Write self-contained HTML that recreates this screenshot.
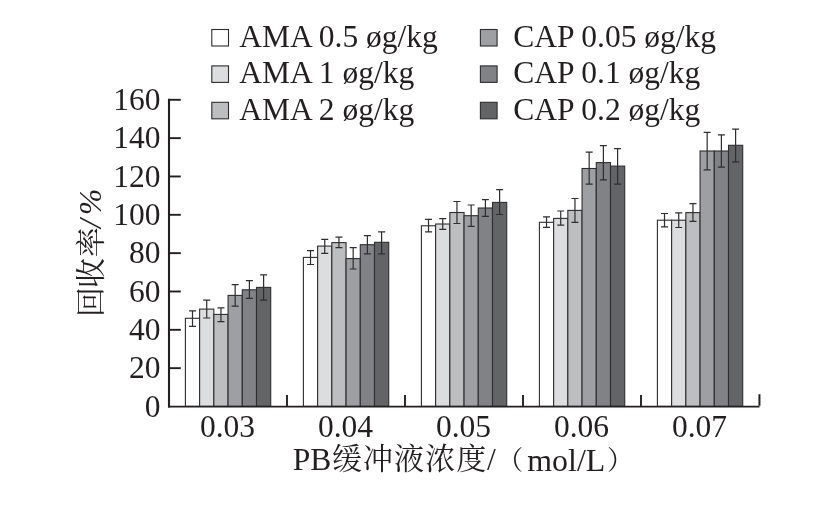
<!DOCTYPE html>
<html lang="zh"><head><meta charset="utf-8"><title>PB缓冲液浓度 回收率</title>
<style>html,body{margin:0;padding:0;background:#fff}body{width:814px;height:505px;overflow:hidden}svg{display:block}text{font-family:"Liberation Serif","Noto Serif CJK SC",serif;fill:#231f20}</style></head><body>
<svg width="814" height="505" viewBox="0 0 814 505">
<rect width="814" height="505" fill="#fff"/>
<g stroke="#2e2d2f" stroke-width="1.1">
<rect x="185.40" y="318.30" width="14.22" height="88.10" fill="#ffffff"/>
<rect x="199.62" y="309.10" width="14.22" height="97.30" fill="#dcddde"/>
<rect x="213.84" y="314.40" width="14.22" height="92.00" fill="#bcbec0"/>
<rect x="228.06" y="295.40" width="14.22" height="111.00" fill="#9d9fa2"/>
<rect x="242.28" y="289.80" width="14.22" height="116.60" fill="#808285"/>
<rect x="256.50" y="287.40" width="14.22" height="119.00" fill="#636466"/>
<rect x="303.40" y="257.40" width="14.22" height="149.00" fill="#ffffff"/>
<rect x="317.62" y="246.10" width="14.22" height="160.30" fill="#dcddde"/>
<rect x="331.84" y="242.60" width="14.22" height="163.80" fill="#bcbec0"/>
<rect x="346.06" y="258.60" width="14.22" height="147.80" fill="#9d9fa2"/>
<rect x="360.28" y="244.70" width="14.22" height="161.70" fill="#808285"/>
<rect x="374.50" y="242.30" width="14.22" height="164.10" fill="#636466"/>
<rect x="421.40" y="225.80" width="14.22" height="180.60" fill="#ffffff"/>
<rect x="435.62" y="224.00" width="14.22" height="182.40" fill="#dcddde"/>
<rect x="449.84" y="212.50" width="14.22" height="193.90" fill="#bcbec0"/>
<rect x="464.06" y="215.70" width="14.22" height="190.70" fill="#9d9fa2"/>
<rect x="478.28" y="208.00" width="14.22" height="198.40" fill="#808285"/>
<rect x="492.50" y="202.40" width="14.22" height="204.00" fill="#636466"/>
<rect x="539.40" y="222.30" width="14.22" height="184.10" fill="#ffffff"/>
<rect x="553.62" y="218.40" width="14.22" height="188.00" fill="#dcddde"/>
<rect x="567.84" y="210.40" width="14.22" height="196.00" fill="#bcbec0"/>
<rect x="582.06" y="168.50" width="14.22" height="237.90" fill="#9d9fa2"/>
<rect x="596.28" y="162.60" width="14.22" height="243.80" fill="#808285"/>
<rect x="610.50" y="166.10" width="14.22" height="240.30" fill="#636466"/>
<rect x="657.40" y="220.20" width="14.22" height="186.20" fill="#ffffff"/>
<rect x="671.62" y="220.20" width="14.22" height="186.20" fill="#dcddde"/>
<rect x="685.84" y="212.60" width="14.22" height="193.80" fill="#bcbec0"/>
<rect x="700.06" y="151.00" width="14.22" height="255.40" fill="#9d9fa2"/>
<rect x="714.28" y="151.00" width="14.22" height="255.40" fill="#808285"/>
<rect x="728.50" y="145.30" width="14.22" height="261.10" fill="#636466"/>
</g>
<g stroke="#2e2d2f" stroke-width="1.2" fill="none">
<path d="M189.01 310.90H196.01M192.51 310.90V326.30M189.01 326.30H196.01"/>
<path d="M203.23 300.20H210.23M206.73 300.20V318.00M203.23 318.00H210.23"/>
<path d="M217.45 307.90H224.45M220.95 307.90V321.60M217.45 321.60H224.45"/>
<path d="M231.67 284.70H238.67M235.17 284.70V306.10M231.67 306.10H238.67"/>
<path d="M245.89 280.60H252.89M249.39 280.60V298.40M245.89 298.40H252.89"/>
<path d="M260.11 274.90H267.11M263.61 274.90V300.20M260.11 300.20H267.11"/>
<path d="M307.01 250.60H314.01M310.51 250.60V264.50M307.01 264.50H314.01"/>
<path d="M321.23 239.30H328.23M324.73 239.30V253.30M321.23 253.30H328.23"/>
<path d="M335.45 237.20H342.45M338.95 237.20V247.60M335.45 247.60H342.45"/>
<path d="M349.67 247.60H356.67M353.17 247.60V269.00M349.67 269.00H356.67"/>
<path d="M363.89 235.70H370.89M367.39 235.70V253.90M363.89 253.90H370.89"/>
<path d="M378.11 231.90H385.11M381.61 231.90V253.90M378.11 253.90H385.11"/>
<path d="M425.01 219.30H432.01M428.51 219.30V231.80M425.01 231.80H432.01"/>
<path d="M439.23 218.70H446.23M442.73 218.70V229.40M439.23 229.40H446.23"/>
<path d="M453.45 201.50H460.45M456.95 201.50V223.50M453.45 223.50H460.45"/>
<path d="M467.67 205.00H474.67M471.17 205.00V226.40M467.67 226.40H474.67"/>
<path d="M481.89 199.70H488.89M485.39 199.70V216.30M481.89 216.30H488.89"/>
<path d="M496.11 189.60H503.11M499.61 189.60V214.50M496.11 214.50H503.11"/>
<path d="M543.01 216.90H550.01M546.51 216.90V227.30M543.01 227.30H550.01"/>
<path d="M557.23 211.00H564.23M560.73 211.00V225.20M557.23 225.20H564.23"/>
<path d="M571.45 198.50H578.45M574.95 198.50V222.30M571.45 222.30H578.45"/>
<path d="M585.67 152.20H592.67M589.17 152.20V184.20M585.67 184.20H592.67"/>
<path d="M599.89 145.60H606.89M603.39 145.60V179.80M599.89 179.80H606.89"/>
<path d="M614.11 148.60H621.11M617.61 148.60V184.20M614.11 184.20H621.11"/>
<path d="M661.01 213.50H668.01M664.51 213.50V226.80M661.01 226.80H668.01"/>
<path d="M675.23 212.90H682.23M678.73 212.90V227.50M675.23 227.50H682.23"/>
<path d="M689.45 203.70H696.45M692.95 203.70V221.40M689.45 221.40H696.45"/>
<path d="M703.67 132.30H710.67M707.17 132.30V169.80M703.67 169.80H710.67"/>
<path d="M717.89 134.90H724.89M721.39 134.90V167.20M717.89 167.20H724.89"/>
<path d="M732.11 129.20H739.11M735.61 129.20V161.80M732.11 161.80H739.11"/>
</g>
<g stroke="#231f20" stroke-width="1.9" fill="none">
<path stroke-width="2.1" d="M169 98.75V407.6"/>
<path d="M168 406.65H759.5"/>
<path stroke-width="2" d="M759.45 405.8V394.2"/>
<path d="M169 368.16H180.8"/>
<path d="M169 329.82H180.8"/>
<path d="M169 291.49H180.8"/>
<path d="M169 253.15H180.8"/>
<path d="M169 214.81H180.8"/>
<path d="M169 176.47H180.8"/>
<path d="M169 138.14H180.8"/>
<path d="M169 99.80H180.8"/>
<path d="M287.00 406.4V394.9"/>
<path d="M405.00 406.4V394.9"/>
<path d="M523.00 406.4V394.9"/>
<path d="M641.00 406.4V394.9"/>
</g>
<g font-size="31.5" text-anchor="end">
<text x="160.5" y="416.60">0</text>
<text x="160.5" y="378.26">20</text>
<text x="160.5" y="339.92">40</text>
<text x="160.5" y="301.59">60</text>
<text x="160.5" y="263.25">80</text>
<text x="160.5" y="224.91">100</text>
<text x="160.5" y="186.57">120</text>
<text x="160.5" y="148.24">140</text>
<text x="160.5" y="109.90">160</text>
</g>
<g font-size="31.5" text-anchor="middle">
<text x="227.50" y="436.5">0.03</text>
<text x="345.50" y="436.5">0.04</text>
<text x="463.50" y="436.5">0.05</text>
<text x="581.50" y="436.5">0.06</text>
<text x="699.50" y="436.5">0.07</text>
</g>
<g stroke="#2e2d2f" stroke-width="1.1">
<rect x="211.8" y="29.5" width="16.7" height="16.5" fill="#ffffff"/>
<rect x="211.8" y="65.9" width="16.7" height="16.5" fill="#dcddde"/>
<rect x="211.8" y="102.3" width="16.7" height="16.5" fill="#bcbec0"/>
<rect x="480.4" y="29.5" width="16.7" height="16.5" fill="#9d9fa2"/>
<rect x="480.4" y="65.9" width="16.7" height="16.5" fill="#808285"/>
<rect x="480.4" y="102.3" width="16.7" height="16.5" fill="#636466"/>
</g>
<g font-size="31.5">
<text x="239.2" y="46.9">AMA 0.5 øg/kg</text>
<text x="239.2" y="83.3">AMA 1 øg/kg</text>
<text x="239.2" y="119.7">AMA 2 øg/kg</text>
<text x="513.3" y="46.9">CAP 0.05 øg/kg</text>
<text x="513.3" y="83.3">CAP 0.1 øg/kg</text>
<text x="513.3" y="119.7">CAP 0.2 øg/kg</text>
</g>
<text font-size="31.5"><tspan x="292.8" y="470.3">PB</tspan><tspan x="331.9" y="469.3" font-size="30" letter-spacing="1.1">缓冲液浓度</tspan><tspan x="487" y="470.3">/</tspan><tspan x="496.7" y="469.1" font-size="26.5">（</tspan><tspan x="527.3" y="470.6" font-size="31.9">mol/L</tspan><tspan x="607.1" y="469.1" font-size="26.5">）</tspan></text>
<g font-size="30"><text transform="translate(101 317) rotate(-90)">回</text><text transform="translate(101 288) rotate(-90)">收</text><text transform="translate(101 257.3) rotate(-90)">率</text><text font-size="31.5" font-style="italic" transform="translate(101 228) rotate(-90)">/</text><text font-size="31.5" font-style="italic" transform="translate(101 215) rotate(-90)">%</text></g>
</svg></body></html>
